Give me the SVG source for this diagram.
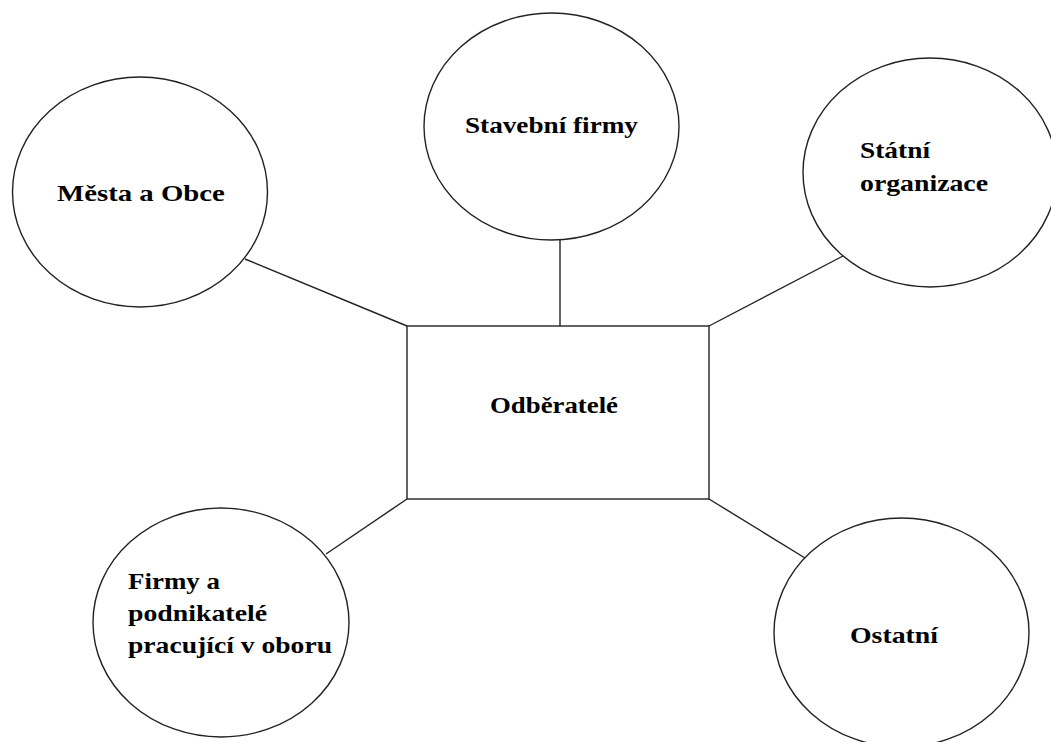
<svg xmlns="http://www.w3.org/2000/svg" width="1051" height="742" viewBox="0 0 1051 742">
<style>
.shape{fill:#fff;stroke:#222;stroke-width:1.4}
.conn{stroke:#222;stroke-width:1.4;fill:none}
.lbl{font-family:"Liberation Serif","Times New Roman",serif;font-weight:bold;font-size:24px;fill:#000}
</style>
<rect width="1051" height="742" fill="#fff"/>
<g id="connectors">
<line class="conn" x1="245" y1="259" x2="407" y2="326"/>
<line class="conn" x1="560" y1="240" x2="560" y2="326"/>
<line class="conn" x1="843" y1="256" x2="709" y2="326"/>
<line class="conn" x1="326" y1="554" x2="407" y2="499"/>
<line class="conn" x1="805" y1="558" x2="709" y2="499"/>
</g>
<g id="node-odberatele">
<rect class="shape" x="407" y="326" width="302" height="173"/>
<text class="lbl" transform="translate(490,413) scale(1.15,1)" textLength="111.3" lengthAdjust="spacingAndGlyphs">Odběratelé</text>
</g>
<g id="node-mesta">
<ellipse class="shape" cx="140" cy="192" rx="127.5" ry="115"/>
<text class="lbl" transform="translate(57,201) scale(1.15,1)" textLength="146" lengthAdjust="spacingAndGlyphs">Města a Obce</text>
</g>
<g id="node-stavebni">
<ellipse class="shape" cx="551.5" cy="126.5" rx="127.5" ry="113.5"/>
<text class="lbl" transform="translate(465,133) scale(1.15,1)" textLength="150.4" lengthAdjust="spacingAndGlyphs">Stavební firmy</text>
</g>
<g id="node-statni">
<ellipse class="shape" cx="930" cy="172.5" rx="127" ry="114.5"/>
<text class="lbl" transform="translate(860,158) scale(1.15,1)" textLength="60.9" lengthAdjust="spacingAndGlyphs">Státní</text>
<text class="lbl" transform="translate(860,191) scale(1.15,1)" textLength="111.3" lengthAdjust="spacingAndGlyphs">organizace</text>
</g>
<g id="node-firmy">
<ellipse class="shape" cx="221" cy="622.5" rx="128" ry="114.5"/>
<text class="lbl" transform="translate(128,589) scale(1.15,1)" textLength="80" lengthAdjust="spacingAndGlyphs">Firmy a</text>
<text class="lbl" transform="translate(128,621) scale(1.15,1)" textLength="120.9" lengthAdjust="spacingAndGlyphs">podnikatelé</text>
<text class="lbl" transform="translate(128,653) scale(1.15,1)" textLength="177.4" lengthAdjust="spacingAndGlyphs">pracující v oboru</text>
</g>
<g id="node-ostatni">
<ellipse class="shape" cx="901.5" cy="632.5" rx="127.5" ry="114.5"/>
<text class="lbl" transform="translate(850,643) scale(1.15,1)" textLength="76.5" lengthAdjust="spacingAndGlyphs">Ostatní</text>
</g>
</svg>
